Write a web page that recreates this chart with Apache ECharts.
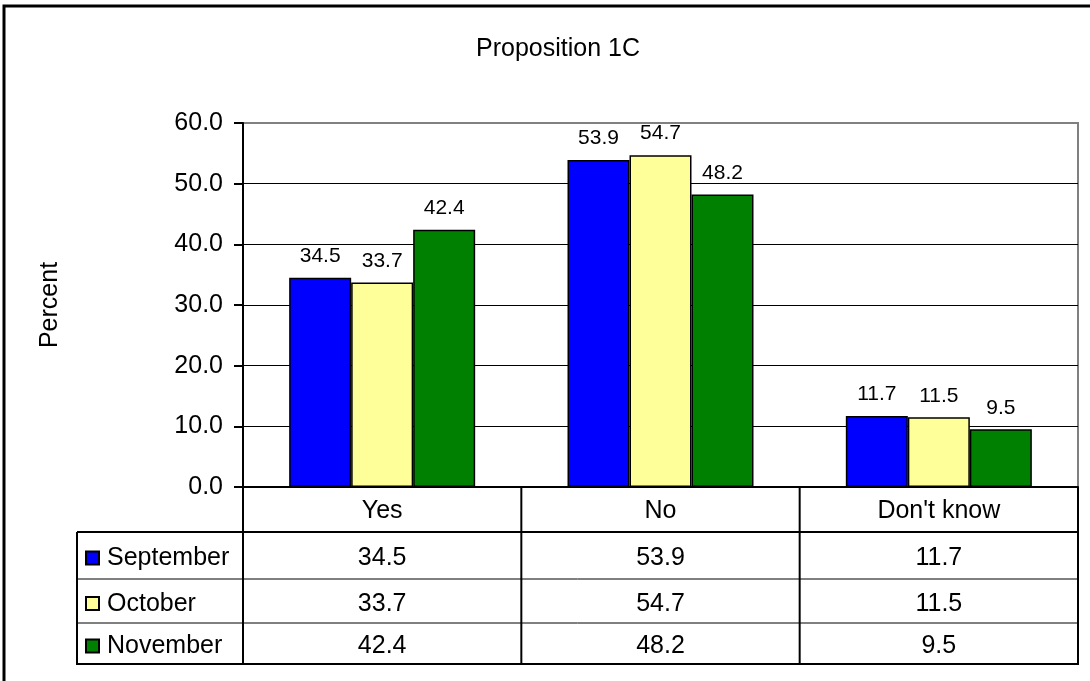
<!DOCTYPE html>
<html><head><meta charset="utf-8">
<script src="https://cdn.jsdelivr.net/npm/echarts@6/dist/echarts.min.js"></script>
<style>html,body{margin:0;padding:0;background:#fff}#c{width:1090px;height:681px}</style>
</head><body><div id="c"></div>
<script>
const categories = ['Yes', 'No', "Don't know"];
const seriesNames = ['September', 'October', 'November'];
const september = [34.5, 53.9, 11.7];
const october = [33.7, 54.7, 11.5];
const november = [42.4, 48.2, 9.5];
const yTicks = [0, 10, 20, 30, 40, 50, 60];
const colors = ['#0000FF', '#FFFF99', '#008000'];
const values = [september, october, november];
const FONT = "'Liberation Sans', Arial, sans-serif";

const chart = echarts.init(document.getElementById('c'), null, {renderer: 'canvas'});
const gridL = 243, gridR = 12, gridT = 123, gridB = 194;
const splitColors = yTicks.map((t, i) => i === yTicks.length - 1 ? '#808080' : '#000');

chart.setOption({
  animation: false,
  backgroundColor: '#fff',
  title: {
    text: 'Proposition 1C', left: 553, top: 32, textAlign: 'center',
    textStyle: {fontFamily: FONT, fontSize: 25, fontWeight: 'normal', color: '#000'}
  },
  grid: {left: gridL, right: gridR, top: gridT, bottom: gridB, show: true, borderColor: '#808080', borderWidth: 2},
  xAxis: {
    type: 'category', data: categories,
    axisLine: {lineStyle: {color: '#000', width: 2}},
    axisTick: {show: false},
    axisLabel: {margin: 12, fontFamily: FONT, fontSize: 25, color: '#000'}
  },
  yAxis: {
    type: 'value', min: yTicks[0], max: yTicks[yTicks.length - 1], interval: 10,
    name: 'Percent', nameLocation: 'middle', nameGap: 180, nameRotate: 90,
    nameTextStyle: {fontFamily: FONT, fontSize: 25, color: '#000'},
    axisLine: {show: true, lineStyle: {color: '#000', width: 2}},
    axisTick: {show: true, length: 9, lineStyle: {color: '#000', width: 2}},
    axisLabel: {margin: 20, formatter: v => v.toFixed(1), fontFamily: FONT, fontSize: 25, color: '#000'},
    splitLine: {show: true, lineStyle: {color: splitColors, width: 1}}
  },
  series: values.map((d, i) => ({
    type: 'bar', name: seriesNames[i], data: d, barWidth: 62, barGap: '0%',
    itemStyle: {color: colors[i], borderColor: '#000', borderWidth: 1.5},
    label: {show: true, position: 'top', distance: 11, formatter: p => p.value.toFixed(1),
      fontFamily: FONT, fontSize: 21, color: '#000'}
  }))
});

// Data table below the plot
const cx = categories.map(c => chart.convertToPixel({xAxisIndex: 0}, c));
const y0 = chart.convertToPixel({yAxisIndex: 0}, 0);
const xRight = 1090 - gridR;
const tableLeft = 77;
const headerBottom = 532;
const rowLines = [headerBottom, 579, 623, 664];
const bounds = [];
for (let i = 0; i < cx.length - 1; i++) bounds.push((cx[i] + cx[i + 1]) / 2);

const g = [];
const line = (x1, y1, x2, y2, w) => g.push({type: 'line', z: 100, shape: {x1, y1, x2, y2}, style: {stroke: '#000', lineWidth: w}});
line(gridL, y0, gridL, rowLines[3], 2);
bounds.forEach(b => line(b, y0, b, rowLines[3], 2));
line(xRight, y0, xRight, rowLines[3] + 1, 2);
line(tableLeft, headerBottom, tableLeft, rowLines[3] + 1, 2);
line(tableLeft, headerBottom, xRight, headerBottom, 2);
line(tableLeft, rowLines[1], xRight, rowLines[1], 1);
line(tableLeft, rowLines[2], xRight, rowLines[2], 1);
line(tableLeft, rowLines[3], xRight + 1, rowLines[3], 2);

for (let r = 0; r < seriesNames.length; r++) {
  const yc = (rowLines[r] + rowLines[r + 1]) / 2 + 3;
  g.push({type: 'rect', z: 100, shape: {x: 86, y: yc - 7, width: 13, height: 13},
    style: {fill: colors[r], stroke: '#000', lineWidth: 2}});
  g.push({type: 'text', z: 100, x: 107, y: yc,
    style: {text: seriesNames[r], font: '25px ' + FONT, fill: '#000', textAlign: 'left', textVerticalAlign: 'middle'}});
  for (let c = 0; c < categories.length; c++) {
    g.push({type: 'text', z: 100, x: cx[c], y: yc,
      style: {text: values[r][c].toFixed(1), font: '25px ' + FONT, fill: '#000', textAlign: 'center', textVerticalAlign: 'middle'}});
  }
}
// outer chart border (top and left visible)
g.push({type: 'polyline', z: 100, shape: {points: [[4, 700], [4, 6], [1100, 6]]}, style: {stroke: '#000', lineWidth: 3, fill: null}});

chart.setOption({graphic: g});
</script>
</body></html>
